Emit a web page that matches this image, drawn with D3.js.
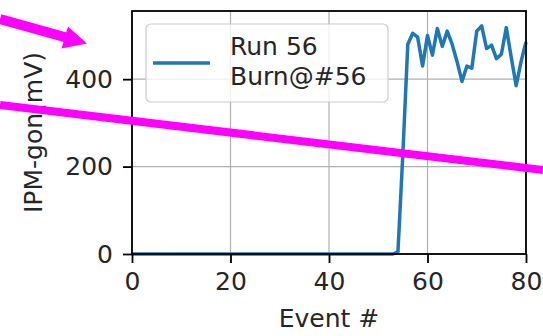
<!DOCTYPE html>
<meta charset="utf-8">
<script src="https://d3js.org/d3.v7.min.js"></script>
<style>
  body { margin: 0; background: #fff; }
  text { font-family: "DejaVu Sans", sans-serif; fill: #262626; }
</style>
<div id="chart"></div>
<script>
  // tick labels
  var xTicks = [0, 20, 40, 60, 80]
  var yTicks = [0, 200, 400]

  // IPM-gon reading per event (event # = position in the list)
  var values = [
    0, 0, 0, 0, 0, 0, 0, 0, 0, 0,
    0, 0, 0, 0, 0, 0, 0, 0, 0, 0,
    0, 0, 0, 0, 0, 0, 0, 0, 0, 0,
    0, 0, 0, 0, 0, 0, 0, 0, 0, 0,
    0, 0, 0, 0, 0, 0, 0, 0, 0, 0,
    0, 0, 0, 0, 5, 230, 480, 505, 496, 430,
    500, 455, 516, 475, 510, 480, 440, 395, 430, 425,
    510, 522, 470, 478, 447, 457, 518, 450, 385, 440,
    485
  ]
  var seriesLabel = ["Run 56", "Burn@#56"]

  var width = 543
      height = 336
      margin = {top: 11, right: 17, bottom: 82, left: 132}

  var svg = d3.select("#chart")
    .append("svg")
      .attr("width", width)
      .attr("height", height)

  var x = d3.scaleLinear()
    .domain([0, 80])
    .range([margin.left, width - margin.right])

  var y = d3.scaleLinear()
    .domain([0, 556])
    .range([height - margin.bottom, margin.top])

  // grid
  svg.append("g")
    .selectAll("line")
    .data(xTicks)
    .enter()
    .append("line")
      .attr("x1", function(d) { return x(d) })
      .attr("x2", function(d) { return x(d) })
      .attr("y1", y(556))
      .attr("y2", y(0))
      .attr("stroke", "#b0b0b0")
      .attr("stroke-width", 1.2)

  svg.append("g")
    .selectAll("line")
    .data(yTicks)
    .enter()
    .append("line")
      .attr("x1", x(0))
      .attr("x2", x(80))
      .attr("y1", function(d) { return y(d) })
      .attr("y2", function(d) { return y(d) })
      .attr("stroke", "#b0b0b0")
      .attr("stroke-width", 1.2)

  // data line
  var line = d3.line()
    .x(function(d, i) { return x(i) })
    .y(function(d) { return y(d) })

  svg.append("path")
    .datum(values)
    .attr("d", line)
    .attr("fill", "none")
    .attr("stroke", "#1f77b4")
    .attr("stroke-width", 3.5)
    .attr("stroke-linejoin", "round")

  // frame
  svg.append("rect")
    .attr("x", x(0))
    .attr("y", y(556))
    .attr("width", x(80) - x(0))
    .attr("height", y(0) - y(556))
    .attr("fill", "none")
    .attr("stroke", "#000")
    .attr("stroke-width", 1.8)

  // axes
  var xAxis = svg.append("g")
    .attr("transform", "translate(0," + y(0) + ")")
    .call(d3.axisBottom(x).tickValues(xTicks).tickSize(9).tickPadding(9).tickSizeOuter(0))
  var yAxis = svg.append("g")
    .attr("transform", "translate(" + x(0) + ",0)")
    .call(d3.axisLeft(y).tickValues(yTicks).tickSize(9).tickPadding(10).tickSizeOuter(0))

  ;[xAxis, yAxis].forEach(function(a) {
    a.select(".domain").remove()
    a.selectAll(".tick line").attr("stroke", "#000").attr("stroke-width", 1.8)
    a.selectAll(".tick text")
      .style("font-family", "DejaVu Sans")
      .style("font-size", "25px")
      .attr("fill", "#262626")
  })

  // axis titles
  svg.append("text")
    .attr("x", (x(0) + x(80)) / 2)
    .attr("y", 327)
    .attr("text-anchor", "middle")
    .style("font-size", "25px")
    .text("Event #")

  svg.append("text")
    .attr("transform", "translate(42," + (y(0) + y(556)) / 2 + ") rotate(-90)")
    .attr("text-anchor", "middle")
    .style("font-size", "25px")
    .text("IPM-gon(mV)")

  // legend
  var legend = svg.append("g")
  legend.append("rect")
    .attr("x", 146)
    .attr("y", 24)
    .attr("width", 242)
    .attr("height", 78)
    .attr("rx", 5)
    .attr("fill", "#fff")
    .attr("fill-opacity", 0.8)
    .attr("stroke", "#cccccc")
    .attr("stroke-width", 1.2)
  legend.append("line")
    .attr("x1", 153)
    .attr("x2", 210)
    .attr("y1", 63)
    .attr("y2", 63)
    .attr("stroke", "#1f77b4")
    .attr("stroke-width", 3.5)
  legend.selectAll("text.lab")
    .data(seriesLabel)
    .enter()
    .append("text")
      .attr("class", "lab")
      .attr("x", 230)
      .attr("y", function(d, i) { return 55 + i * 30 })
      .style("font-size", "25px")
      .text(function(d) { return d })

  // magenta annotation marks drawn over the figure
  var ann = svg.append("g")
  ann.append("line")
    .attr("x1", 0).attr("y1", 19)
    .attr("x2", 68).attr("y2", 38)
    .attr("stroke", "#ff00ff")
    .attr("stroke-width", 10)
  ann.append("path")
    .attr("d", "M87,43.5 L68,26.5 L61.5,48.5 Z")
    .attr("fill", "#ff00ff")
  ann.append("line")
    .attr("x1", 0).attr("y1", 105)
    .attr("x2", 543).attr("y2", 170)
    .attr("stroke", "#ff00ff")
    .attr("stroke-width", 8)
</script>
